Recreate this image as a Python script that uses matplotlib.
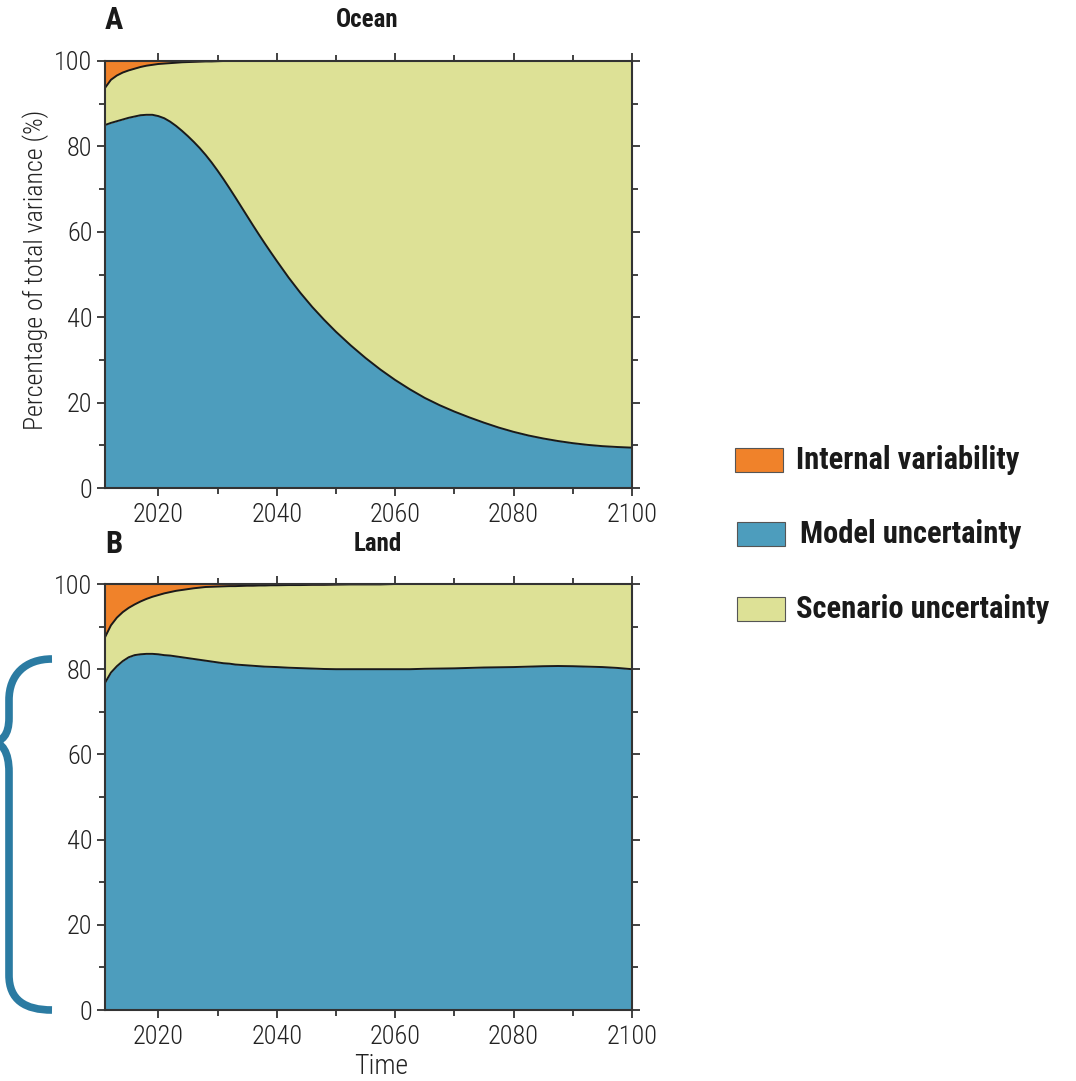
import matplotlib
matplotlib.use("Agg")
import matplotlib.pyplot as plt
import matplotlib.font_manager as fm
from matplotlib.path import Path
from matplotlib.patches import PathPatch, Rectangle
from matplotlib.ticker import MultipleLocator

# ---------------- data ----------------
years = [2011, 2012, 2013, 2014, 2015, 2016, 2017, 2018, 2019, 2020,
         2021, 2022, 2023, 2024, 2025, 2026, 2027, 2028, 2029, 2030,
         2031, 2032, 2033, 2034, 2035, 2036, 2037, 2038, 2039, 2040,
         2042, 2044, 2046, 2048, 2050,
         2052.5, 2055, 2057.5, 2060, 2062.5, 2065, 2067.5, 2070, 2072.5, 2075,
         2077.5, 2080, 2082.5, 2085, 2087.5, 2090, 2092.5, 2095, 2097.5, 2100]

# Ocean: cumulative boundaries (%)
ocean_model = [85.0, 85.5, 85.9, 86.3, 86.7, 87.0, 87.3, 87.4, 87.4, 87.1,
               86.6, 85.8, 84.8, 83.65, 82.4, 81.05, 79.6, 78.0, 76.25, 74.35,
               72.35, 70.25, 68.1, 65.9, 63.7, 61.5, 59.35, 57.25, 55.2, 53.2,
               49.3, 45.7, 42.4, 39.4, 36.6,
               33.4, 30.45, 27.75, 25.3, 23.1, 21.1, 19.4, 17.9, 16.55, 15.3,
               14.15, 13.15, 12.3, 11.6, 11.0, 10.5, 10.1, 9.8, 9.6, 9.45]
ocean_model_plus_scenario = [93.7, 95.6, 96.6, 97.3, 97.8, 98.2, 98.6, 98.9, 99.1, 99.3,
                             99.4, 99.5, 99.6, 99.7, 99.75, 99.8, 99.85, 99.9, 99.9, 99.95,
                             100, 100, 100, 100, 100, 100, 100, 100, 100, 100,
                             100, 100, 100, 100, 100,
                             100, 100, 100, 100, 100, 100, 100, 100, 100, 100,
                             100, 100, 100, 100, 100, 100, 100, 100, 100, 100]

# Land: cumulative boundaries (%)
land_model = [76.8, 79.2, 80.7, 81.9, 82.8, 83.3, 83.5, 83.6, 83.6, 83.5,
              83.3, 83.2, 83.0, 82.8, 82.6, 82.4, 82.2, 82.0, 81.8, 81.6,
              81.4, 81.3, 81.1, 81.0, 80.9, 80.8, 80.7, 80.6, 80.55, 80.5,
              80.35, 80.25, 80.15, 80.05, 80.0,
              80.0, 80.0, 80.0, 80.0, 80.0, 80.1, 80.15, 80.2, 80.3, 80.4,
              80.45, 80.5, 80.6, 80.7, 80.75, 80.7, 80.6, 80.5, 80.3, 80.0]
land_model_plus_scenario = [87.5, 90.3, 92.1, 93.4, 94.4, 95.2, 95.9, 96.5, 97.0, 97.4,
                            97.8, 98.1, 98.4, 98.6, 98.8, 99.0, 99.15, 99.3, 99.35, 99.4,
                            99.45, 99.5, 99.5, 99.55, 99.6, 99.6, 99.65, 99.65, 99.7, 99.7,
                            99.75, 99.75, 99.8, 99.8, 99.85,
                            99.9, 99.9, 99.9, 100, 100, 100, 100, 100, 100, 100,
                            100, 100, 100, 100, 100, 100, 100, 100, 100, 100]

labels = ["Internal variability", "Model uncertainty", "Scenario uncertainty"]
panel_titles = ["Ocean", "Land"]
panel_letters = ["A", "B"]
xticks = [2020, 2040, 2060, 2080, 2100]
yticks = [0, 20, 40, 60, 80, 100]

# ---------------- font choice (prefer a condensed sans) ----------------
_entries = fm.fontManager.ttflist
_names = {f.name for f in _entries}
FAM, STRETCH, CONDENSED = 'DejaVu Sans', 'normal', False
for cand in ['Liberation Sans Narrow', 'Roboto Condensed', 'Noto Sans Condensed',
             'DejaVu Sans Condensed', 'Open Sans Condensed', 'Arial Narrow',
             'Noto Sans Display Condensed']:
    if cand in _names:
        FAM, CONDENSED = cand, True
        break
if not CONDENSED:
    for f in _entries:
        st = str(f.stretch).lower()
        if st in ('condensed', 'semi-condensed', 'extra-condensed') \
                or 'condensed' in f.fname.lower() or 'narrow' in f.fname.lower():
            if f.name in ('DejaVu Sans', 'Noto Sans', 'Open Sans', 'Roboto', 'Liberation Sans'):
                FAM, CONDENSED = f.name, True
                STRETCH = 'condensed'
                break
plt.rcParams['font.family'] = [FAM, 'DejaVu Sans']
plt.rcParams['font.stretch'] = STRETCH

C_INT = "#f0822a"
C_MOD = "#4d9dbd"
C_SCE = "#dde196"
C_BRACE = "#2b7ba2"
TXT = "#222222"

W, H = 1076, 1081
fig = plt.figure(figsize=(W / 100, H / 100), dpi=100)
renderer = fig.canvas.get_renderer()


def fx(px):
    return px / W


def fy(py):
    return 1 - py / H


def fit(t, target, maxsize, axis='w'):
    """scale a text's font size so its extent matches the target in pixels"""
    bb = t.get_window_extent(renderer)
    cur = bb.width if axis == 'w' else bb.height
    fs = t.get_fontsize() * target / cur
    t.set_fontsize(min(fs, maxsize))


TICK_FS = 19 if CONDENSED else 15


def panel(top_px, bottom_px, model, mps):
    ax = fig.add_axes([fx(105), fy(bottom_px), (632 - 105) / W, (bottom_px - top_px) / H])
    ax.fill_between(years, 0, model, color=C_MOD, lw=0)
    ax.fill_between(years, model, mps, color=C_SCE, lw=0)
    ax.fill_between(years, mps, 100, color=C_INT, lw=0)
    ax.plot(years, model, color="#1a1a1a", lw=1.4, solid_joinstyle='round')
    ax.plot(years, mps, color="#1a1a1a", lw=1.4, solid_joinstyle='round')
    ax.set_xlim(2011, 2100)
    ax.set_ylim(0, 100)
    ax.set_xticks(xticks)
    ax.set_yticks(yticks)
    ax.xaxis.set_minor_locator(MultipleLocator(10))
    ax.yaxis.set_minor_locator(MultipleLocator(10))
    ax.tick_params(which='both', direction='out', top=True, right=True,
                   labeltop=False, labelright=False, color="#333333", width=1.3,
                   labelcolor=TXT, labelsize=TICK_FS)
    ax.tick_params(which='major', length=6)
    ax.tick_params(which='minor', length=4)
    ax.tick_params(axis='y', pad=3)
    ax.tick_params(axis='x', pad=5)
    for lab in ax.get_xticklabels() + ax.get_yticklabels():
        lab.set_fontweight('light')
    for s in ax.spines.values():
        s.set_color("#333333")
        s.set_linewidth(1.5)
    return ax


ax1 = panel(61, 488, ocean_model, ocean_model_plus_scenario)
ax2 = panel(584, 1010, land_model, land_model_plus_scenario)

for letter, title, ly, tx, tw in [(panel_letters[0], panel_titles[0], 20, 367, 66),
                                  (panel_letters[1], panel_titles[1], 544, 378, 54)]:
    fig.text(fx(105), fy(ly), letter, fontsize=22, fontweight='bold', ha='left',
             va='center', color="#1a1a1a")
    t = fig.text(fx(tx), fy(ly), title, fontsize=16, fontweight='bold', ha='center',
                 va='center', color="#1a1a1a")
    fit(t, tw, 18)

t = fig.text(fx(36), fy(270), "Percentage of total variance (%)", fontsize=17, rotation=90,
             ha='center', va='center', color=TXT, fontweight='light')
fit(t, 322, 19, axis='h')
t = fig.text(fx(381), fy(1066), "Time", fontsize=18, ha='center', va='center', color=TXT,
             fontweight='light')
fit(t, 54, 20)

# legend
leg = [(C_INT, 735, 448, 796, labels[0], 229),
       (C_MOD, 737, 522, 800, labels[1], 227),
       (C_SCE, 737, 597, 796, labels[2], 260)]
for col, x0, y0, tx, lab, tw in leg:
    fig.patches.append(Rectangle((fx(x0), fy(y0 + 24)), 48 / W, 24 / H, transform=fig.transFigure,
                                 facecolor=col, edgecolor="#555555", lw=0.8))
    t = fig.text(fx(tx), fy(y0 + 12), lab, fontsize=19, fontweight='bold', ha='left',
                 va='center', color="#1a1a1a")
    fit(t, tw, 22)

# brace overlay
ov = fig.add_axes([0, 0, 1, 1])
ov.set_xlim(0, W)
ov.set_ylim(H, 0)
ov.axis('off')
verts = [(52, 659), (25, 659), (9, 675), (9, 700),
         (9, 718),
         (9, 735), (2, 742), (-8, 742),
         (2, 742), (9, 752), (9, 772),
         (9, 975),
         (9, 1000), (25, 1010), (52, 1010)]
codes = [Path.MOVETO, Path.CURVE4, Path.CURVE4, Path.CURVE4,
         Path.LINETO,
         Path.CURVE4, Path.CURVE4, Path.CURVE4,
         Path.CURVE4, Path.CURVE4, Path.CURVE4,
         Path.LINETO,
         Path.CURVE4, Path.CURVE4, Path.CURVE4]
ov.add_patch(PathPatch(Path(verts, codes), facecolor='none', edgecolor=C_BRACE, lw=5.5,
                       capstyle='butt', joinstyle='round'))

fig.savefig("out.png", dpi=100)
